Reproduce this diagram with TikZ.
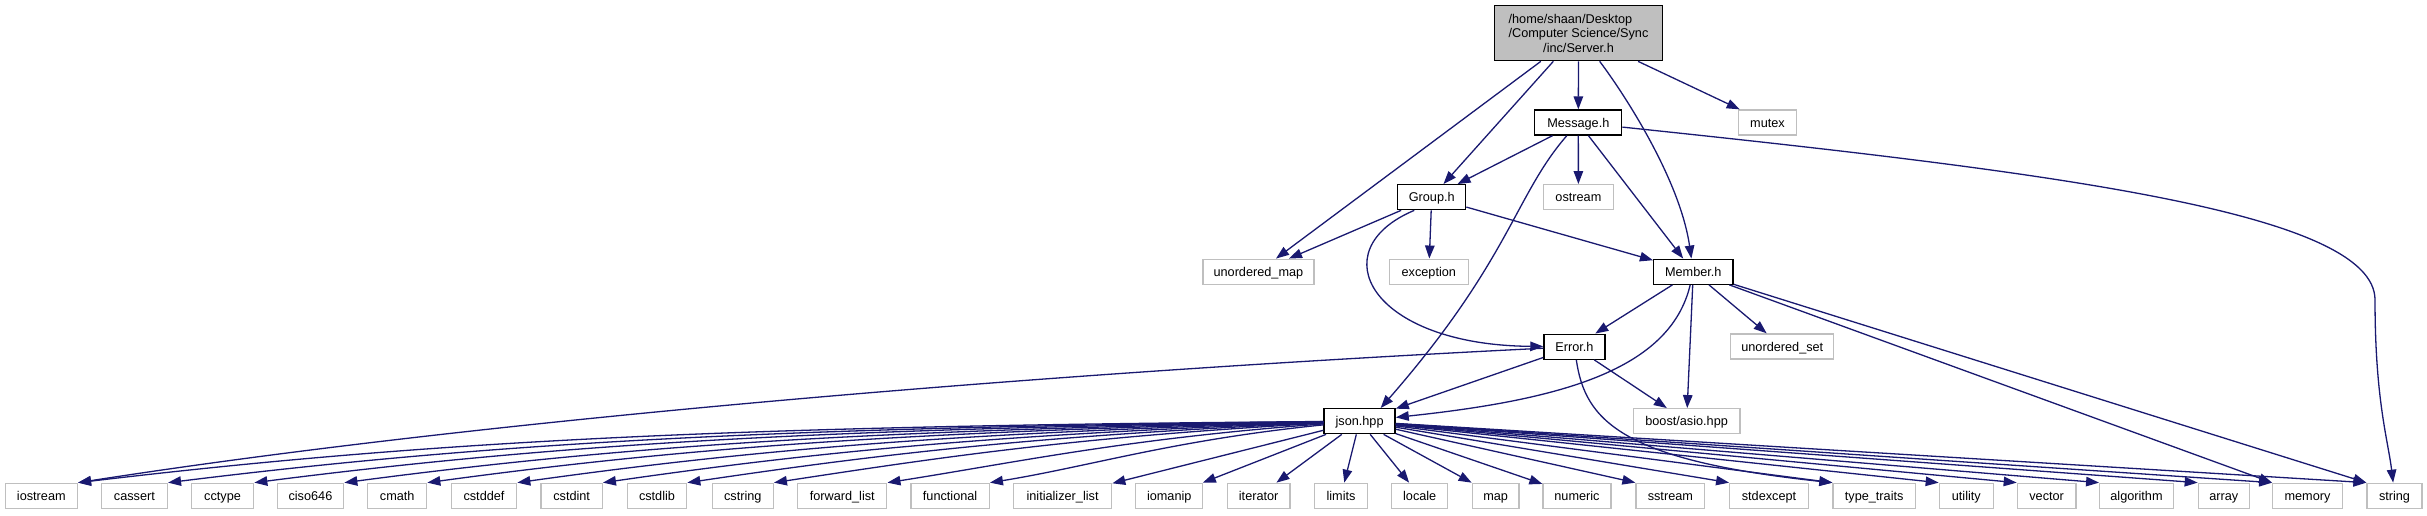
\documentclass[tikz,border=0pt]{standalone}
\usepackage{fontspec}
\setmainfont{Liberation Sans}
\usetikzlibrary{arrows.meta}
\definecolor{edgecol}{RGB}{25,25,112}
\definecolor{extgray}{RGB}{191,191,191}
\tikzset{
  basebox/.style={rectangle, inner sep=0pt, minimum height=25pt, text height=9.1pt, text depth=0pt,
    line width=1.3pt, font=\fontsize{12.7}{14.7}\selectfont},
  incbox/.style={basebox, draw=black, minimum width=#1},
  extbox/.style={basebox, draw=extgray, minimum width=#1},
  rootbox/.style={rectangle, inner sep=0pt, minimum width=168pt, minimum height=55pt, draw=black,
    fill=extgray, line width=1.3pt, align=center, font=\fontsize{12.7}{14.7}\selectfont},
  dep/.style={draw=edgecol, line width=1.3pt, -{Triangle[length=13pt,width=9.5pt]}}
}
\begin{document}
\begin{tikzpicture}[x=1pt,y=-1pt]
\useasboundingbox (0,0) rectangle (2427,515);
% upper nodes
\node[rootbox] (server) at (1578.5,33.2) {\setbox0=\hbox{/Computer Science/Sync}\hbox to\wd0{/home/shaan/Desktop\hfil}\\/Computer Science/Sync\\/inc/Server.h};
\node[incbox=87pt] (msg) at (1578.3,122.5) {Message.h};
\node[extbox=58pt] (mutex) at (1767.5,122.5) {mutex};
\node[incbox=68pt] (group) at (1431.7,197.2) {Group.h};
\node[extbox=69.6pt] (ostream) at (1578.4,197.2) {ostream};
\node[extbox=111pt] (umap) at (1258.4,271.7) {unordered\_map};
\node[extbox=79pt] (exception) at (1428.8,271.7) {exception};
\node[incbox=79.4pt] (member) at (1693.3,271.7) {Member.h};
\node[incbox=61pt] (error) at (1574.4,346.7) {Error.h};
\node[extbox=103pt] (uset) at (1782.3,346.5) {unordered\_set};
\node[incbox=71pt] (json) at (1359.6,421.2) {json.hpp};
\node[extbox=106.5pt] (asio) at (1686.6,421.2) {boost/asio.hpp};
% bottom row
\node[extbox=72.2pt] (iostream) at (41.3,495.8) {iostream};
\node[extbox=65.9pt] (cassert) at (134.45,495.8) {cassert};
\node[extbox=62.3pt] (cctype) at (222.55,495.8) {cctype};
\node[extbox=66.5pt] (ciso646) at (310.45,495.8) {ciso646};
\node[extbox=59pt] (cmath) at (397.2,495.8) {cmath};
\node[extbox=65.4pt] (cstddef) at (484,495.8) {cstddef};
\node[extbox=61.3pt] (cstdint) at (571.65,495.8) {cstdint};
\node[extbox=59.4pt] (cstdlib) at (657,495.8) {cstdlib};
\node[extbox=61pt] (cstring) at (742.8,495.8) {cstring};
\node[extbox=89.1pt] (fwdlist) at (842.25,495.8) {forward\_list};
\node[extbox=78.4pt] (functional) at (950.1,495.8) {functional};
\node[extbox=98.3pt] (initlist) at (1062.55,495.8) {initializer\_list};
\node[extbox=66.9pt] (iomanip) at (1169.25,495.8) {iomanip};
\node[extbox=62.7pt] (iterator) at (1258.65,495.8) {iterator};
\node[extbox=53.4pt] (limits) at (1341,495.8) {limits};
\node[extbox=56pt] (locale) at (1419.7,495.8) {locale};
\node[extbox=46.7pt] (map) at (1495.65,495.8) {map};
\node[extbox=68pt] (numeric) at (1577,495.8) {numeric};
\node[extbox=68.7pt] (sstream) at (1670.35,495.8) {sstream};
\node[extbox=78.6pt] (stdexcept) at (1769,495.8) {stdexcept};
\node[extbox=82.3pt] (typetraits) at (1874.15,495.8) {type\_traits};
\node[extbox=54pt] (utility) at (1966.3,495.8) {utility};
\node[extbox=58.7pt] (vector) at (2046.65,495.8) {vector};
\node[extbox=73.6pt] (algorithm) at (2136.5,495.8) {algorithm};
\node[extbox=51pt] (array) at (2223.8,495.8) {array};
\node[extbox=69.6pt] (memory) at (2307.5,495.8) {memory};
\node[extbox=55pt] (string) at (2394.5,495.8) {string};
% Server.h
\draw[dep] (server) -- (msg);
\draw[dep] (server) -- (mutex);
\draw[dep] (server) -- (group);
\draw[dep] (server) -- (umap);
\draw[dep] (server) .. controls (1625,95) and (1680,180) .. (member);
% Message.h
\draw[dep] (msg) -- (group);
\draw[dep] (msg) -- (ostream);
\draw[dep] (msg) -- (member);
\draw[dep] (msg) .. controls (1515,195) and (1510,260) .. (json.32);
\draw[dep] (msg) .. controls (2050,172) and (2375,212) .. (2375,300) .. controls (2375,400) and (2388,440) .. (string.96);
% Group.h
\draw[dep] (group) -- (umap);
\draw[dep] (group) -- (exception);
\draw[dep] (group) -- (member);
\draw[dep] (group.-143) .. controls (1320,250) and (1370,345) .. (error);
% Member.h
\draw[dep] (member) -- (error);
\draw[dep] (member) .. controls (1670,370) and (1560,400) .. (json);
\draw[dep] (member) -- (asio);
\draw[dep] (member) -- (uset);
\draw[dep] (member) -- (memory.north west);
\draw[dep] (member) -- (string.north west);
% Error.h
\draw[dep] (error) .. controls (1040,373) and (480,420) .. (iostream.north east);
\draw[dep] (error) -- (json);
\draw[dep] (error) -- (asio);
\draw[dep] (error) .. controls (1585,420) and (1620,460) .. (typetraits.north west);
% json.hpp, left fan
\draw[dep] (json) .. controls (763,426) and (451.4,438.1) .. (iostream.north east);
\draw[dep] (json) .. controls (803.5,427.4) and (514.4,439.8) .. (cassert.north east);
\draw[dep] (json) .. controls (842.4,428.7) and (574.8,441.7) .. (cctype.north east);
\draw[dep] (json) .. controls (882.9,430.1) and (637.8,443.9) .. (ciso646.north east);
\draw[dep] (json) .. controls (920.2,431.4) and (695.9,446.1) .. (cmath.north east);
\draw[dep] (json) .. controls (960.7,432.7) and (758.9,448.8) .. (cstddef.north east);
\draw[dep] (json) .. controls (999.2,434.1) and (818.8,451.5) .. (cstdint.north east);
\draw[dep] (json) .. controls (1037.2,435.4) and (877.9,454.4) .. (cstdlib.north east);
\draw[dep] (json) .. controls (1076.2,436.7) and (938.5,457.6) .. (cstring.north east);
\draw[dep] (json) .. controls (1127.3,438.4) and (1018,462.1) .. (fwdlist.north east);
\draw[dep] (json) .. controls (1173.4,440) and (1089.7,466.5) .. (functional.north east);
% json.hpp, middle
\draw[dep] (json) -- (initlist);
\draw[dep] (json) -- (iomanip);
\draw[dep] (json) -- (iterator);
\draw[dep] (json) -- (limits);
\draw[dep] (json) -- (locale);
\draw[dep] (json) -- (map);
\draw[dep] (json) -- (numeric);
% json.hpp, right fan
\draw[dep] (json) -- (sstream.north west);
\draw[dep] (json) -- (stdexcept.north west);
\draw[dep] (json) -- (typetraits.north west);
\draw[dep] (json) -- (utility.north west);
\draw[dep] (json) -- (vector.north west);
\draw[dep] (json) -- (algorithm.north west);
\draw[dep] (json) -- (array.north west);
\draw[dep] (json) -- (memory.north west);
\draw[dep] (json) -- (string.north west);
\end{tikzpicture}
\end{document}
